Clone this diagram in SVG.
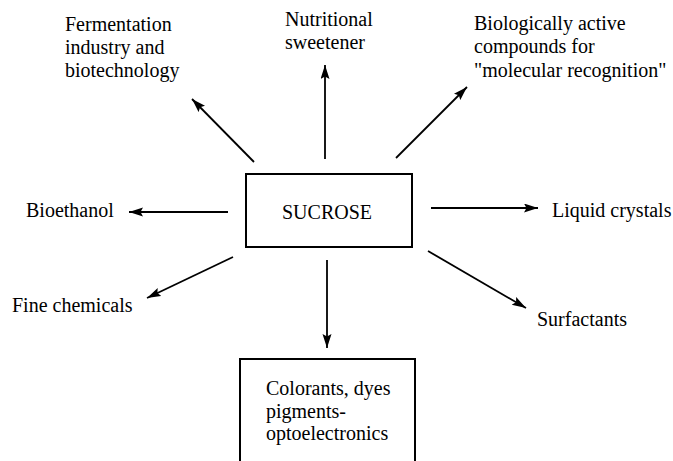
<svg xmlns="http://www.w3.org/2000/svg" width="673" height="461" viewBox="0 0 673 461">
<defs>
<marker id="ah" markerUnits="userSpaceOnUse" markerWidth="16" markerHeight="10" refX="14" refY="4.5" orient="auto">
<path d="M0,0 L14,4.5 L0,9 L2.5,4.5 z" fill="#000"/>
</marker>
<style>
text{font-size:20px;fill:#000}
.box{fill:#fff;stroke:#000;stroke-width:2}
.c line{stroke:#000;stroke-width:1.8;marker-end:url(#ah)}
</style>
</defs>
<rect width="673" height="461" fill="#fff"/>
<g class="c" id="connectors">
<line x1="254" y1="162" x2="192" y2="99"/>
<line x1="325" y1="159" x2="325" y2="65"/>
<line x1="396" y1="158" x2="467" y2="87"/>
<line x1="228" y1="212" x2="129" y2="212"/>
<line x1="431" y1="208" x2="538" y2="208"/>
<line x1="233" y1="257" x2="147" y2="298"/>
<line x1="428" y1="251" x2="526" y2="308"/>
<line x1="327" y1="260" x2="327" y2="348"/>
</g>
<g font-family="Liberation Serif, DejaVu Serif, serif">
<g id="sucrose">
<rect class="box" x="246" y="174" width="166" height="73"/>
<text x="327" y="219" text-anchor="middle">SUCROSE</text>
</g>
<g id="fermentation">
<text x="65" y="31">Fermentation</text>
<text x="65" y="54">industry and</text>
<text x="65" y="77">biotechnology</text>
</g>
<g id="nutritional">
<text x="285" y="26">Nutritional</text>
<text x="285" y="49">sweetener</text>
</g>
<g id="biological">
<text x="474" y="30">Biologically active</text>
<text x="474" y="53">compounds for</text>
<text x="474" y="77">"molecular recognition"</text>
</g>
<g id="bioethanol"><text x="26" y="217">Bioethanol</text></g>
<g id="liquid"><text x="552" y="217">Liquid crystals</text></g>
<g id="fine"><text x="12" y="312">Fine chemicals</text></g>
<g id="surfactants"><text x="537" y="326">Surfactants</text></g>
<g id="colorants">
<rect class="box" x="240" y="359" width="175" height="115"/>
<text x="266" y="395">Colorants, dyes</text>
<text x="266" y="418">pigments-</text>
<text x="266" y="440">optoelectronics</text>
</g>
</g>
</svg>
